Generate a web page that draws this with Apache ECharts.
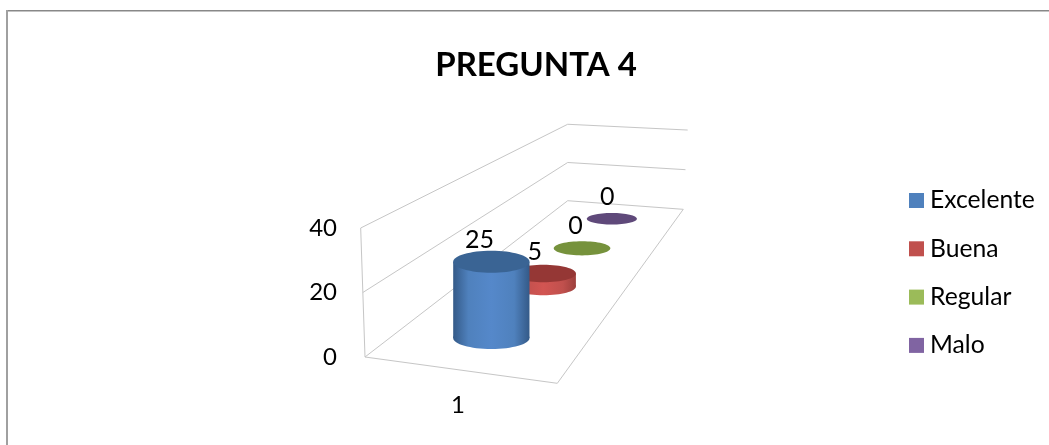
<!DOCTYPE html>
<html>
<head>
<meta charset="utf-8">
<style>html,body{margin:0;padding:0;background:#fff}#chart{width:1049px;height:445px}</style>
<script src="https://cdn.jsdelivr.net/npm/echarts@6/dist/echarts.min.js"></script>
</head>
<body>
<div id="chart"></div>
<script>
// Survey results for question 4
var chartTitle = 'PREGUNTA 4';
var categories = ['1'];
var seriesNames = ['Excelente', 'Buena', 'Regular', 'Malo'];
var excelente = [25];
var buena = [5];
var regular = [0];
var malo = [0];
var axisTicks = [0, 20, 40];

var FONT = 'Lato, "Open Sans", sans-serif';

// Office palette: legend/base colour, side highlight, side shade, cap
var palette = [
  { base: '#4f81bd', light: '#5588ca', dark: '#345a88', cap: '#3a6494' },
  { base: '#c0504d', light: '#d25552', dark: '#9c3f3c', cap: '#953735' },
  { base: '#9bbb59', light: '#a9cc60', dark: '#7b9647', cap: '#76923c' },
  { base: '#8064a2', light: '#8c6eb1', dark: '#5f497a', cap: '#5f497a' }
];

// Homography taking the unit floor square (u across, v in depth) to the screen
var H = { a: 155.85, b: 619.8, c: 365, d: 1.23, e: -8.8, f: 357, g: -0.0654, h: 0.7348 };
// Cylinders stand slightly in front of the geometric floor position
var SEAT_DROP = 1.5;
function depthOf(u, v) { return H.g * u + H.h * v + 1; }
function floorPoint(u, v) {
  var w = depthOf(u, v);
  return [(H.a * u + H.b * v + H.c) / w, (H.d * u + H.e * v + H.f) / w];
}
// Screen position of a point lifted by `rise` front-plane pixels
function lifted(u, v, rise) {
  var p = floorPoint(u, v);
  var w = Math.pow(depthOf(u, v), 0.95);
  var lean = (p[0] - 567.7) * (p[0] < 567.7 ? 0.0213 : 0.038) * rise / 129;
  return [p[0] + lean, p[1] - rise / w];
}

function cylinderRenderer(seriesIndex) {
  var v = (seriesIndex + 0.5) / seriesNames.length;
  var col = palette[seriesIndex];
  return function (params, api) {
    var value = api.value(1);
    var zero = api.coord([0, 0])[1];
    var w = depthOf(0.5, v);
    var base = floorPoint(0.5, v);
    base[1] += SEAT_DROP;
    var rise = (zero - api.coord([0, value])[1]) / Math.pow(w, 0.95);
    var rx = 40.4 / w;
    var ry = 16.1 / w - 4.2;
    var topY = base[1] - rise;
    var shade = new echarts.graphic.LinearGradient(0, 0, 1, 0, [
      { offset: 0, color: col.dark },
      { offset: 0.2, color: col.base },
      { offset: 0.5, color: col.light },
      { offset: 0.8, color: col.base },
      { offset: 1, color: col.dark }
    ]);
    var children = [];
    if (rise > 0) {
      children.push({ type: 'ellipse', shape: { cx: base[0], cy: base[1], rx: rx, ry: ry }, style: { fill: shade } });
      children.push({ type: 'rect', shape: { x: base[0] - rx, y: topY, width: rx * 2, height: rise }, style: { fill: shade } });
    }
    children.push({ type: 'ellipse', shape: { cx: base[0], cy: topY, rx: rx, ry: ry }, style: { fill: col.cap } });
    children.push({
      type: 'text',
      style: {
        text: String(value),
        x: base[0] + 9 - 22 / w,
        y: topY - 22,
        align: 'center',
        verticalAlign: 'middle',
        font: '25px ' + FONT,
        fill: '#000'
      }
    });
    return { type: 'group', children: children };
  };
}

// Walls and floor of the box, one level per axis tick
function wallRenderer(params, api) {
  var level = api.value(1);
  var rise = api.coord([0, 0])[1] - api.coord([0, level])[1];
  var stroke = { stroke: '#c6c6c6', lineWidth: 1, fill: null };
  function seg(a, b) {
    return { type: 'line', shape: { x1: a[0], y1: a[1], x2: b[0], y2: b[1] }, style: stroke };
  }
  var children = [
    seg(lifted(0, 0, rise), lifted(0, 1, rise)),
    seg(lifted(0, 1, rise), lifted(1, 1, rise))
  ];
  if (level === 0) {
    children.push(seg(lifted(0, 0, 0), lifted(1, 0, 0)));
    children.push(seg(lifted(1, 0, 0), lifted(1, 1, 0)));
    var top = api.coord([0, 0])[1] - api.coord([0, axisTicks[axisTicks.length - 1]])[1];
    children.push(seg(lifted(0, 0, 0), lifted(0, 0, top)));
  }
  return { type: 'group', children: children };
}

var values = [excelente, buena, regular, malo];
var series = [{
  name: 'walls',
  type: 'custom',
  renderItem: wallRenderer,
  data: axisTicks.map(function (t) { return [0, t]; }),
  encode: { x: 0, y: 1 },
  clip: false,
  silent: true,
  z: 1
}];
seriesNames.forEach(function (name, i) {
  series.push({
    name: name,
    type: 'custom',
    renderItem: cylinderRenderer(i),
    data: values[i].map(function (val, k) { return [k, val]; }),
    encode: { x: 0, y: 1 },
    clip: false,
    itemStyle: { color: palette[i].base },
    z: 10 - i
  });
});

var chart = echarts.init(document.getElementById('chart'), null, { renderer: 'canvas' });
chart.setOption({
  animation: false,
  backgroundColor: '#ffffff',
  title: {
    text: chartTitle,
    left: 531,
    top: 44,
    textAlign: 'center',
    textStyle: { fontFamily: FONT, fontSize: 33, fontWeight: 'bold', color: '#000' }
  },
  legend: {
    data: seriesNames.map(function (n) { return { name: n, icon: 'rect' }; }),
    orient: 'vertical',
    left: 909,
    top: 186,
    padding: 0,
    itemWidth: 15,
    itemHeight: 15,
    itemGap: 19.3,
    textStyle: { fontFamily: FONT, fontSize: 24.7, color: '#000', lineHeight: 29, padding: [0, 0, 0, 1] }
  },
  grid: { left: 361, top: 228, width: 194, height: 129 },
  xAxis: {
    type: 'category',
    data: categories,
    axisLine: { show: false },
    axisTick: { show: false },
    axisLabel: { margin: 36, fontFamily: FONT, fontSize: 24, color: '#000' }
  },
  yAxis: {
    type: 'value',
    min: axisTicks[0],
    max: axisTicks[axisTicks.length - 1],
    interval: axisTicks[1] - axisTicks[0],
    axisLine: { show: false },
    axisTick: { show: false },
    splitLine: { show: false },
    axisLabel: { margin: 24, fontFamily: FONT, fontSize: 24, color: '#000', padding: [5, 0, 0, 0] }
  },
  graphic: [
    { type: 'rect', shape: { x: 6, y: 10, width: 1043, height: 1.5 }, style: { fill: '#888888' }, silent: true },
    { type: 'rect', shape: { x: 6, y: 10, width: 2, height: 435 }, style: { fill: '#a0a0a0' }, silent: true }
  ],
  series: series
});
</script>
</body>
</html>
